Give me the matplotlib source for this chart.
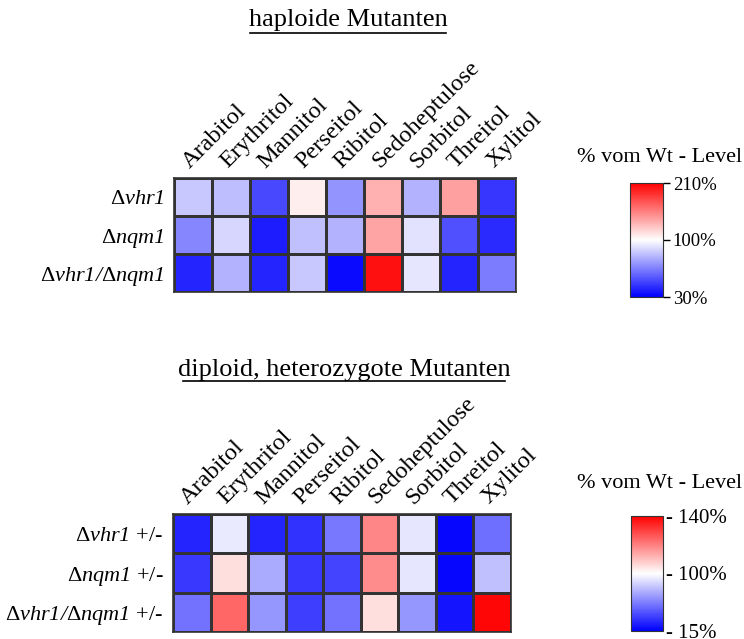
import numpy as np
import matplotlib
matplotlib.use("Agg")
import matplotlib.pyplot as plt
from matplotlib.colors import LinearSegmentedColormap, TwoSlopeNorm

plt.rcParams['font.family'] = 'Liberation Serif'
plt.rcParams['mathtext.fontset'] = 'custom'
plt.rcParams['mathtext.rm'] = 'Liberation Serif'
plt.rcParams['mathtext.it'] = 'Liberation Serif:italic'
plt.rcParams['mathtext.sf'] = 'Liberation Serif:italic'

metabolites = ['Arabitol', 'Erythritol', 'Mannitol', 'Perseitol', 'Ribitol',
               'Sedoheptulose', 'Sorbitol', 'Threitol', 'Xylitol']

# haploid mutants, % of wild type level
hap_rows = [r'$\Delta\mathsf{vhr1}$', r'$\Delta\mathsf{nqm1}$',
            r'$\Delta\mathsf{vhr1/}\Delta\mathsf{nqm1}$']
hap_vhr1 = [85, 82, 50, 107, 71, 134, 79, 141, 45]
hap_nqm1 = [67, 89, 38, 83, 79, 139, 92, 52, 42]
hap_double = [40, 79, 40, 85, 33, 203, 93, 40, 64]

# diploid heterozygous mutants
dip_rows = [r'$\Delta\mathsf{vhr1}$ +/-', r'$\Delta\mathsf{nqm1}$ +/-',
            r'$\Delta\mathsf{vhr1/}\Delta\mathsf{nqm1}$ +/-']
dip_vhr1 = [27, 93, 27, 32, 55, 119, 92, 17, 52]
dip_nqm1 = [34, 105, 72, 34, 38, 118, 92, 17, 79]
dip_double = [53, 124, 65, 36, 53, 105, 65, 22, 139]

cmap = LinearSegmentedColormap.from_list('bwr2', ['#0000ff', '#ffffff', '#ff0000'])

fig = plt.figure(figsize=(7.44, 6.39), dpi=100)
W, H = 744.0, 639.0


def box(x0, y0, x1, y1):
    return [x0 / W, 1 - y1 / H, (x1 - x0) / W, (y1 - y0) / H]


def heat(rect, data, rows, lims, cbrect, cb_ticklabels, cb_fs, cb_ticklen):
    ax = fig.add_axes(rect)
    norm = TwoSlopeNorm(vmin=lims[0], vcenter=lims[1], vmax=lims[2])
    m = ax.pcolormesh(np.array(data), cmap=cmap, norm=norm,
                      edgecolors='#333333', linewidth=1.0)
    ax.set_xlim(0, 9)
    ax.set_ylim(3, 0)
    ax.xaxis.tick_top()
    ax.set_xticks(np.arange(9) + 0.5)
    ax.set_xticklabels(metabolites, rotation=45, ha='left', va='bottom',
                       rotation_mode='anchor', fontsize=17.5)
    ax.set_yticks(np.arange(3) + 0.5)
    ax.set_yticklabels(rows, fontsize=16)
    ax.tick_params(axis='x', length=0, pad=4)
    ax.tick_params(axis='y', length=0, pad=7)
    for s in ax.spines.values():
        s.set_color('#333333')
        s.set_linewidth(1.2)
    cax = fig.add_axes(cbrect)
    cb = fig.colorbar(m, cax=cax, ticks=lims)
    cb.set_ticklabels(cb_ticklabels)
    cb.outline.set_edgecolor('#333333')
    cax.tick_params(labelsize=cb_fs, length=cb_ticklen, width=1, pad=2)
    return ax


heat(box(174, 178, 516, 292), [hap_vhr1, hap_nqm1, hap_double], hap_rows,
     [30, 100, 210], box(630, 183, 663, 297), ['30%', '100%', '210%'], 13.5, 5)
heat(box(173, 514, 511, 632), [dip_vhr1, dip_nqm1, dip_double], dip_rows,
     [15, 100, 140], box(631, 516, 663, 631), ['- 15%', '- 100%', '- 140%'], 15, 0)

fig.text(660 / W, 1 - 157 / H, '% vom Wt - Level', ha='center', va='center', fontsize=16)
fig.text(660 / W, 1 - 483 / H, '% vom Wt - Level', ha='center', va='center', fontsize=16)

fig.text(348 / W, 1 - 20 / H, 'haploide Mutanten', ha='center', va='center', fontsize=19)
fig.text(344 / W, 1 - 370 / H, 'diploid, heterozygote Mutanten', ha='center',
         va='center', fontsize=19)

# underline titles
fig.add_artist(plt.Line2D([250 / W, 446 / W], [1 - 33 / H, 1 - 33 / H], color='black', lw=1.2))
fig.add_artist(plt.Line2D([183 / W, 505 / W], [1 - 381 / H, 1 - 381 / H], color='black', lw=1.2))

fig.savefig('out.png', dpi=100)
